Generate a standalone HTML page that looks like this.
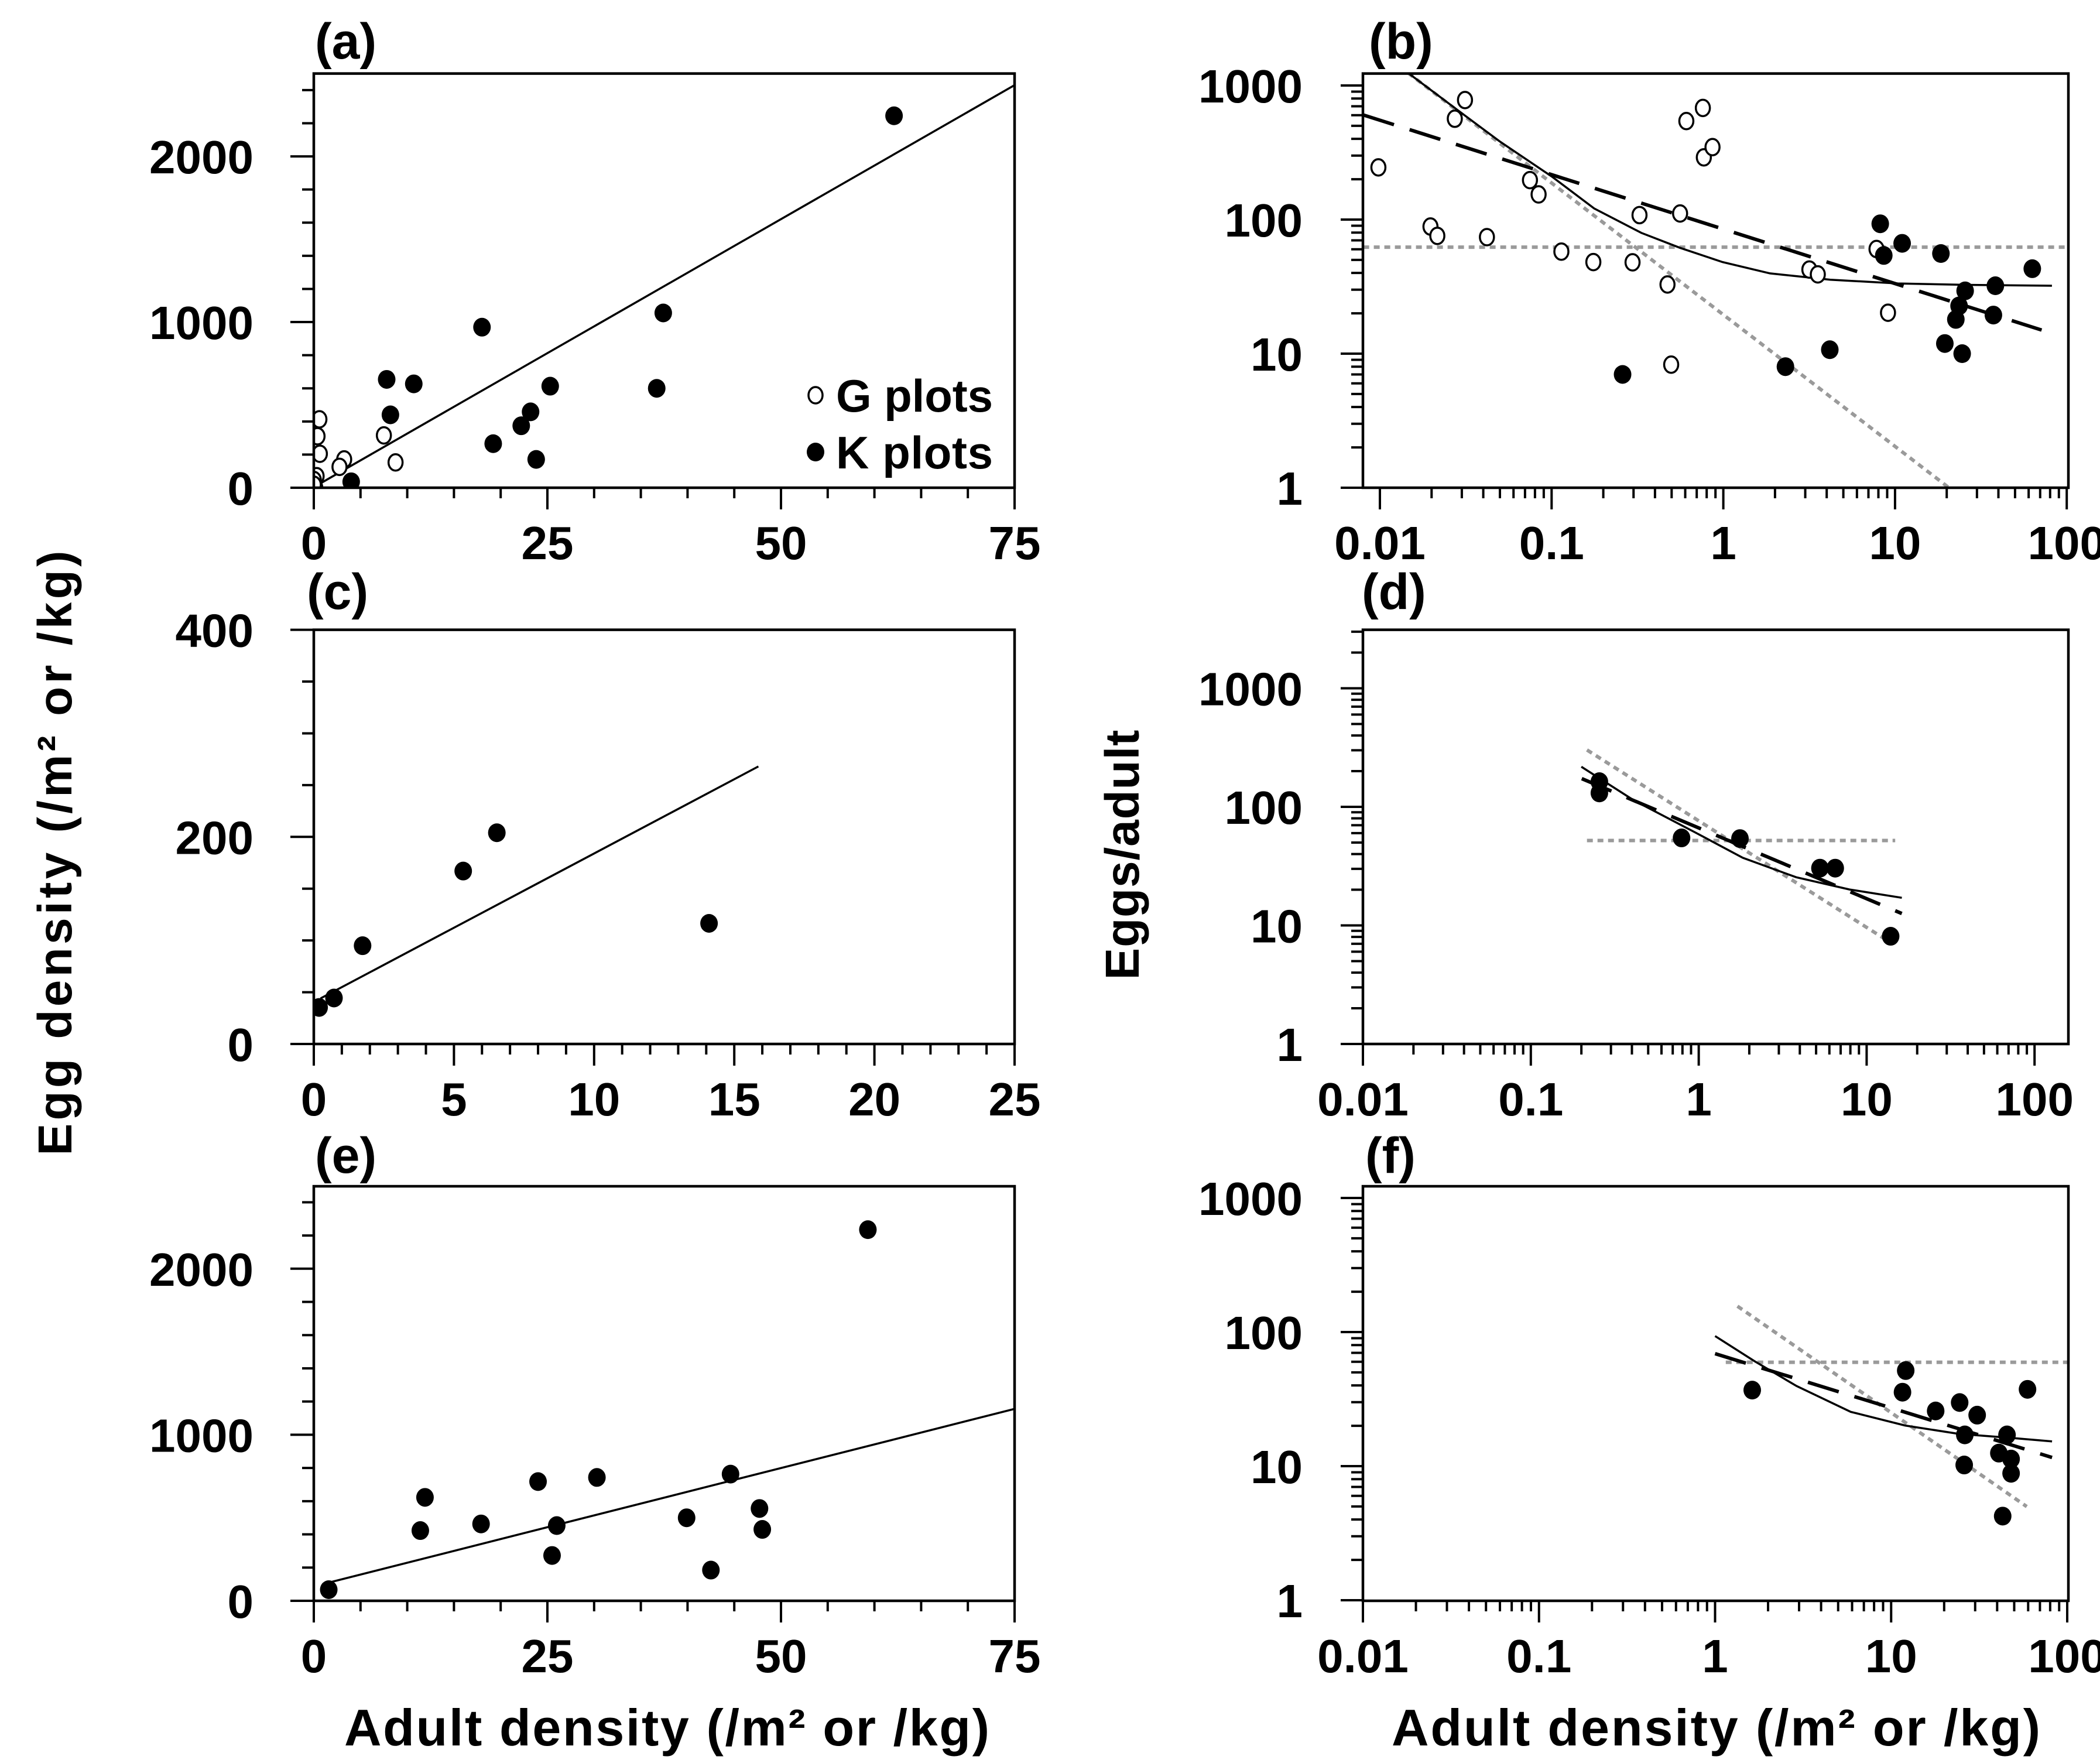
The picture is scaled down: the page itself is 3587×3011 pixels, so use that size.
<!DOCTYPE html>
<html><head><meta charset="utf-8"><style>
html,body{margin:0;padding:0;background:#fff;}
svg{display:block;}
text{font-family:"Liberation Sans",Arial,sans-serif;font-weight:bold;fill:#000;}
</style></head><body>
<svg id="fig" xmlns="http://www.w3.org/2000/svg" width="3587" height="3011" viewBox="0 0 3587 3011">
<rect width="3587" height="3011" fill="#fff"/>
<text transform="translate(122,1457) rotate(-90)" text-anchor="middle" font-size="82" textLength="1033" lengthAdjust="spacing">Egg density (/m² or /kg)</text>
<text transform="translate(1945,1460) rotate(-90)" text-anchor="middle" font-size="82" textLength="427" lengthAdjust="spacing">Eggs/adult</text>
<text x="588" y="2981" font-size="88" textLength="1102" lengthAdjust="spacing">Adult density (/m² or /kg)</text>
<text x="2377" y="2981" font-size="88" textLength="1108" lengthAdjust="spacing">Adult density (/m² or /kg)</text>
</svg>
<script>
// ---- Panel (a) data ----
const aOpenX=[0.6,0.4,0.65,7.5,8.75,3.25,2.75,0.3,0,0.15,0];
const aOpenY=[413,311,205,316,153,171,126,70,47,2,18];
const aFillX=[62.1,37.4,18.0,7.8,10.7,8.2,25.3,36.7,23.2,22.2,19.2,23.8,4.0];
const aFillY=[2245,1055,969,654,627,440,613,600,458,374,266,171,36];
const aFitX=[0.2,75];
const aFitY=[10,2430];
// ---- Panel (b) data ----
const bOpenX=[0.0098,0.0197,0.0216,0.0273,0.0313,0.042,0.0748,0.084,0.114,0.175,0.296,0.325,0.473,0.497,0.56,0.609,0.76,0.77,0.865,3.17,3.55,7.8,9.1];
const bOpenY=[245,88.7,75.6,565,779,74,197,154,57.7,48.2,48,108,32.8,8.28,111,543,680,291,347,42.4,39,60.3,20.2];
const bFillX=[0.259,2.30,4.17,8.2,8.6,11.0,18.5,25.6,23.6,22.6,19.5,24.6,38.4,37.4,63];
const bFillY=[7.0,8.0,10.7,93,54,66.5,55.8,29.4,22.7,18,11.9,10,32.1,19.4,43];
const bSolidX=[0.0146,0.0289,0.0497,0.101,0.177,0.333,0.56,0.99,1.87,4.2,10.4,26,82];
const bSolidY=[1240,643,384,208,121,79.6,61.5,48.2,39.7,35.6,33.4,32.6,32.1];
const bDashX=[0.008,71.4];
const bDashY=[603,15];
const bFlatX=[0.008,100];
const bFlatY=[62.3,62.3];
const bSteepX=[0.0146,20.6];
const bSteepY=[1240,1];
// ---- Panel (c) data ----
const cFillX=[0.19,0.72,1.74,5.33,6.53,14.1];
const cFillY=[35.3,44.4,94.9,167,204,116.5];
const cFitX=[0.24,15.86];
const cFitY=[44,268];
// ---- Panel (d) data ----
const dFillX=[0.256,0.256,0.79,1.76,5.27,6.5,13.9];
const dFillY=[163,131,54.7,54,30.4,30.4,8.1];
const dFlatX=[0.216,14.8];
const dFlatY=[52,52];
const dSteepX=[0.216,13.9];
const dSteepY=[302,7.16];
const dDashX=[0.201,16.2];
const dDashY=[173,12.6];
const dSolidX=[0.2,0.413,0.95,1.83,3.8,7.9,16.2];
const dSolidY=[218,113,61,37.2,25.5,20.1,17.1];
// ---- Panel (e) data ----
const eFillX=[1.6,11.4,11.9,17.9,24.0,25.5,26.0,30.3,39.9,42.5,44.6,47.7,48.0,59.3];
const eFillY=[67,423,623,463,718,273,453,743,500,185,763,556,430,2235];
const eFitX=[0.94,75];
const eFitY=[100,1156];
// ---- Panel (f) data ----
const fFillX=[1.626,12.1,11.6,17.9,24.5,30.8,26.2,26.0,45.5,40.9,48.0,48.0,43,59.5];
const fFillY=[36.9,51.6,35.6,25.8,29.8,24,17.1,10.2,17.1,12.5,11.3,8.84,4.24,37.4];
const fFlatX=[1.15,100];
const fFlatY=[59.5,59.5];
const fSteepX=[1.34,58.9];
const fSteepY=[156,4.99];
const fDashX=[1.0,82];
const fDashY=[69,11.6];
const fSolidX=[1.0,1.67,2.9,5.9,12.0,24.2,49,82];
const fSolidY=[93.4,60.8,39.6,25.4,20.1,17.4,16.2,15.3];
// tick labels
const linTicksA=[0,1000,2000];
const linXTicksA=[0,25,50,75];
const linTicksC=[0,200,400];
const linXTicksC=[0,5,10,15,20,25];
const logXLabels=["0.01","0.1","1","10","100"];
const logYLabels=["1","10","100","1000"];

const NS="http://www.w3.org/2000/svg";
const svg=document.getElementById('fig');
function mk(tag,attrs,parent){const e=document.createElementNS(NS,tag);for(const k in attrs)e.setAttribute(k,attrs[k]);(parent||svg).appendChild(e);return e;}

function linScale(d0,d1,r0,r1){return v=>r0+(v-d0)/(d1-d0)*(r1-r0);}
function logScale(refV,refPx,decadePx,dir){return v=>refPx+dir*Math.log10(v/refV)*decadePx;}

function panel(id,L,R,T,B,sx,sy){
  const g=mk('g',{});
  
  
  const cp=mk('clipPath',{id:'clip-'+id},g);
  mk('rect',{x:L,y:T,width:R-L,height:B-T},cp);
  const plot=mk('g',{'clip-path':'url(#clip-'+id+')'},g);
  return {g,plot,L,R,T,B,sx,sy};
}
function frame(p,id){
  const r=mk('rect',{x:p.L,y:p.T,width:p.R-p.L,height:p.B-p.T,fill:'none',stroke:'#000','stroke-width':4.5},p.g);
  
  
}
function label(p,txt,x,y){
  const t=mk('text',{x:x,y:y,'font-size':86},p.g);t.textContent=txt;
  
  
}
function tickLine(p,x1,y1,x2,y2){mk('line',{x1,y1,x2,y2,stroke:'#000','stroke-width':4},p.g);}
function yLabel(p,txt,y){
  const t=mk('text',{x:p.L-103,y:y+29,'font-size':80,'text-anchor':'end'},p.g);t.textContent=txt;
  
  
}
function xLabel(p,txt,x){
  const t=mk('text',{x:x,y:p.B+122,'font-size':80,'text-anchor':'middle'},p.g);t.textContent=txt;
  
  
}
function linAxes(p,ymax,ystep,ylabs,xmax,xstep,xlabs){
  for(let v=0;v<=ymax+1e-9;v+=ystep){const y=p.sy(v);const maj=ylabs.includes(v);tickLine(p,p.L-(maj?40:20),y,p.L,y);}
  ylabs.forEach(v=>yLabel(p,String(v),p.sy(v)));
  for(let v=0;v<=xmax+1e-9;v+=xstep){const x=p.sx(v);const maj=xlabs.includes(v);tickLine(p,x,p.B,x,p.B+(maj?37:18));}
  xlabs.forEach(v=>xLabel(p,String(v),p.sx(v)));
}
function logAxes(p,xmin,xmax,ymax){
  for(let d=-2;d<=2;d++){for(let m=1;m<=9;m++){const v=m*Math.pow(10,d);if(v<xmin*0.999||v>xmax*1.001)continue;const x=p.sx(v);tickLine(p,x,p.B,x,p.B+(m===1?37:18));}}
  logXLabels.forEach((s,i)=>xLabel(p,s,p.sx(Math.pow(10,i-2))));
  for(let d=0;d<=3;d++){for(let m=1;m<=9;m++){const v=m*Math.pow(10,d);if(v>ymax)continue;const y=p.sy(v);tickLine(p,p.L-(m===1?38:20),y,p.L,y);}}
  logYLabels.forEach((s,i)=>yLabel(p,s,p.sy(Math.pow(10,i))));
}
function line(p,xs,ys,style,name){
  const pts=xs.map((x,i)=>p.sx(x).toFixed(1)+','+p.sy(ys[i]).toFixed(1)).join(' ');
  const a={points:pts,fill:'none'};
  if(style==='solid'){a.stroke='#000';a['stroke-width']=3.5;}
  if(style==='dash'){a.stroke='#000';a['stroke-width']=6;a['stroke-dasharray']='55 28';}
  if(style==='dot'){a.stroke='#9a9a9a';a['stroke-width']=6;a['stroke-dasharray']='10 8';}
  const e=mk('polyline',a,p.plot);
  
  
}
function points(p,xs,ys,open,name){
  xs.forEach((x,i)=>{
    const e=open?mk('ellipse',{cx:p.sx(x),cy:p.sy(ys[i]),rx:12,ry:14,fill:'#fff',stroke:'#000','stroke-width':3.5},p.plot)
                :mk('ellipse',{cx:p.sx(x),cy:p.sy(ys[i]),rx:15,ry:16,fill:'#000'},p.plot);
    
    
  });
}

// (a)
let pa=panel('a',536,1733,125.6,833,linScale(0,75,536,1733),linScale(0,2500,833,125.6));
linAxes(pa,2400,200,linTicksA,75,5,linXTicksA);
line(pa,aFitX,aFitY,'solid','regression-line');
points(pa,aOpenX,aOpenY,true,'g-plot-point');
points(pa,aFillX,aFillY,false,'k-plot-point');
frame(pa,'a');label(pa,'(a)',538,100);
{const e=mk('ellipse',{cx:1393,cy:675,rx:12,ry:14,fill:'#fff',stroke:'#000','stroke-width':3.5},pa.g);

const t=mk('text',{x:1428,y:703,'font-size':78,textLength:268,lengthAdjust:'spacing'},pa.g);t.textContent='G plots';

const e2=mk('ellipse',{cx:1393,cy:772,rx:15,ry:16,fill:'#000'},pa.g);

const t2=mk('text',{x:1428,y:800,'font-size':78,textLength:268,lengthAdjust:'spacing'},pa.g);t2.textContent='K plots';
}

// (b)
let pb=panel('b',2328,3533,125.6,833,logScale(0.01,2357,293.3,1),logScale(1,833,229,-1));
logAxes(pb,0.008,100,1240);
line(pb,bFlatX,bFlatY,'dot','flat-fit');
line(pb,bSteepX,bSteepY,'dot','steep-fit');
line(pb,bDashX,bDashY,'dash','power-fit');
line(pb,bSolidX,bSolidY,'solid','curve-fit');
points(pb,bOpenX,bOpenY,true,'g-plot-point');
points(pb,bFillX,bFillY,false,'k-plot-point');
frame(pb,'b');label(pb,'(b)',2338,100);

// (c)
let pc=panel('c',536,1733,1075.6,1783,linScale(0,25,536,1733),linScale(0,400,1783,1075.6));
linAxes(pc,400,50,linTicksC,25,1,linXTicksC);
line(pc,cFitX,cFitY,'solid','regression-line');
points(pc,cFillX,cFillY,false,'k-plot-point');
frame(pc,'c');label(pc,'(c)',524,1040);

// (d)
let pd=panel('d',2328,3533,1075.6,1783,logScale(0.01,2328,286.8,1),logScale(1,1783,202.5,-1));
logAxes(pd,0.01,159,3130);
line(pd,dFlatX,dFlatY,'dot','flat-fit');
line(pd,dSteepX,dSteepY,'dot','steep-fit');
line(pd,dDashX,dDashY,'dash','power-fit');
line(pd,dSolidX,dSolidY,'solid','curve-fit');
points(pd,dFillX,dFillY,false,'k-plot-point');
frame(pd,'d');label(pd,'(d)',2326,1040);

// (e)
let pe=panel('e',536,1733,2026,2734,linScale(0,75,536,1733),linScale(0,2500,2734,2025));
linAxes(pe,2400,200,linTicksA,75,5,linXTicksA);
line(pe,eFitX,eFitY,'solid','regression-line');
points(pe,eFillX,eFillY,false,'k-plot-point');
frame(pe,'e');label(pe,'(e)',538,2003);

// (f)
let pf=panel('f',2328,3533,2026,2734,logScale(0.01,2328,300.75,1),logScale(1,2733,229,-1));
logAxes(pf,0.01,100,1235);
line(pf,fFlatX,fFlatY,'dot','flat-fit');
line(pf,fSteepX,fSteepY,'dot','steep-fit');
line(pf,fDashX,fDashY,'dash','power-fit');
line(pf,fSolidX,fSolidY,'solid','curve-fit');
points(pf,fFillX,fFillY,false,'k-plot-point');
frame(pf,'f');label(pf,'(f)',2332,2003);
</script>
</body></html>
